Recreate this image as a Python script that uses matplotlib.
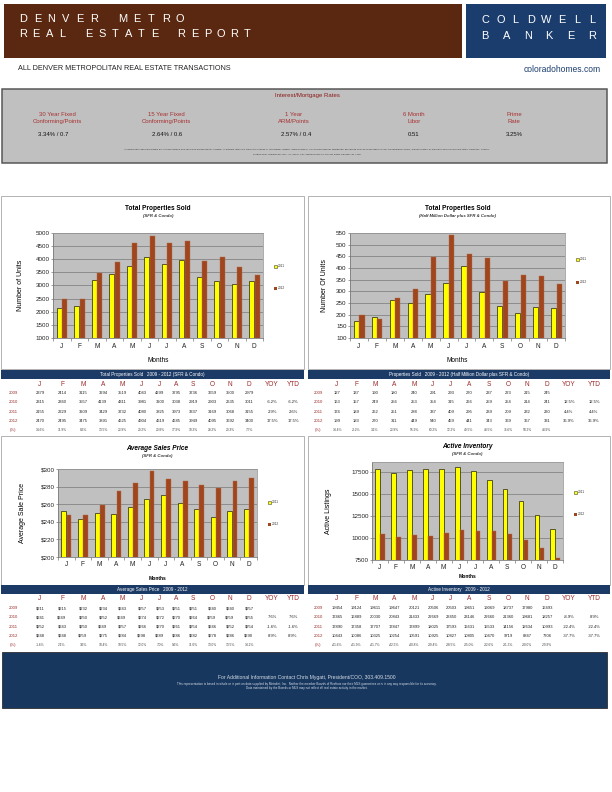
import matplotlib
matplotlib.use("Agg")
import matplotlib.pyplot as plt
from matplotlib.patches import Rectangle

plt.rcParams['font.family'] = ['Liberation Sans', 'DejaVu Sans']

W, H = 612, 792

months = ['J', 'F', 'M', 'A', 'M', 'J', 'J', 'A', 'S', 'O', 'N', 'D']
years = ['2009', '2010', '2011', '2012']

# total properties sold (SFR & condo)
sold_2009 = [2379, 2414, 3115, 3294, 3519, 4043, 4299, 3795, 3736, 3659, 3500, 2979]
sold_2010 = [2315, 2360, 3557, 4139, 4311, 3981, 3200, 3038, 2919, 2903, 2635, 3011]
sold_2011 = [2155, 2229, 3209, 3429, 3732, 4080, 3825, 3973, 3337, 3169, 3068, 3155]
sold_2012 = [2470, 2495, 3475, 3891, 4625, 4904, 4619, 4685, 3949, 4095, 3692, 3400]
sold_yoy = ['', '-6.2%', '2.9%', '17.5%']
sold_ytd = ['', '-6.2%', '2.6%', '17.5%']
sold_pct = ['14.6%', '11.9%', '8.3%', '13.5%', '23.9%', '20.2%', '20.8%', '17.9%',
            '18.3%', '29.2%', '20.3%', '7.7%']

# half million dollar plus
half_2009 = [127, 137, 190, 180, 240, 291, 293, 270, 237, 223, 215, 245]
half_2010 = [163, 157, 249, 256, 253, 354, 315, 266, 259, 254, 214, 241]
half_2011 = [174, 189, 262, 251, 288, 337, 409, 295, 239, 209, 232, 230]
half_2012 = [199, 183, 270, 311, 449, 540, 459, 441, 343, 369, 367, 331]
half_yoy = ['', '12.5%', '4.4%', '36.9%']
half_ytd = ['', '12.5%', '4.4%', '36.9%']
half_pct = ['14.4%', '-3.2%', '3.1%', '23.9%', '55.9%', '60.2%', '12.2%', '49.5%',
            '43.5%', '76.6%', '58.2%', '43.9%']

# average sales price ($K)
price_2009 = [211, 215, 232, 234, 243, 257, 253, 251, 251, 240, 240, 257]
price_2010 = [241, 249, 250, 252, 249, 274, 272, 270, 264, 259, 259, 255]
price_2011 = [252, 243, 250, 249, 257, 266, 270, 261, 254, 246, 252, 254]
price_2012 = [248, 248, 259, 275, 284, 298, 289, 286, 282, 278, 286, 290]
price_yoy = ['', '7.6%', '-1.6%', '8.9%']
price_ytd = ['', '7.6%', '-1.6%', '8.9%']
price_pct = ['-1.6%', '2.1%', '3.6%', '10.4%', '10.5%', '12.0%', '7.0%', '9.6%',
             '11.0%', '13.0%', '13.5%', '14.2%']

# active inventory
inv_2009 = [19454, 19124, 19611, 19647, 20121, 20506, 20503, 19651, 19069, 18737, 17980, 16493]
inv_2010 = [17465, 16889, 20030, 20843, 21433, 22669, 23450, 23146, 22660, 21360, 19681, 18257]
inv_2011 = [17890, 17358, 17707, 17847, 17899, 18025, 17593, 16631, 15533, 14156, 12634, 10993]
inv_2012 = [10443, 10086, 10325, 10254, 10591, 10925, 10827, 10805, 10470, 9719, 8847, 7706]
inv_yoy = ['', '-8.9%', '-22.4%', '-37.7%']
inv_ytd = ['', '8.9%', '-22.4%', '-37.7%']
inv_pct = ['-41.6%', '-41.9%', '-41.7%', '-42.5%', '-40.8%', '-39.4%', '-38.5%', '-35.0%',
           '-32.6%', '-31.3%', '-30.0%', '-29.9%']

rate_labels = ['30 Year Fixed\nConforming/Points', '15 Year Fixed\nConforming/Points',
               '1 Year\nARM/Points', '6 Month\nLibor', 'Prime\nRate']
rate_values = ['3.34% / 0.7', '2.64% / 0.6', '2.57% / 0.4', '0.51', '3.25%']

BROWN_HDR = '#5a2810'
NAVY = '#17375f'
DARKRED = '#9c2a2a'
YEL = '#ffff00'
BAR2 = '#a0461e'

fig = plt.figure(figsize=(W / 72, H / 72), dpi=72)
bg = fig.add_axes([0, 0, 1, 1])
bg.set_xlim(0, W)
bg.set_ylim(H, 0)
bg.axis('off')


def ax_px(x0, y0, x1, y1):
    return fig.add_axes([x0 / W, 1 - y1 / H, (x1 - x0) / W, (y1 - y0) / H])


def rect(x0, y0, x1, y1, fc, ec='none', lw=0):
    bg.add_patch(Rectangle((x0, y0), x1 - x0, y1 - y0, fc=fc, ec=ec, lw=lw))


def spaced(text, x0, x1, y, size):
    step = (x1 - x0) / (len(text) - 1)
    for i, ch in enumerate(text):
        bg.text(x0 + i * step, y, ch, color='white', fontsize=size, ha='center', va='center')


# header
rect(4, 4, 462, 58, BROWN_HDR)
rect(466, 4, 606, 58, '#1b3d6e')
spaced('DENVER METRO', 23, 180, 19, 11)
spaced('REAL ESTATE REPORT', 23, 247, 34, 11)
spaced('COLDWELL', 485, 592, 20, 11)
spaced('BANKER', 485, 592, 36, 11)
bg.text(18, 69, 'ALL DENVER METROPOLITAN REAL ESTATE TRANSACTIONS', fontsize=7.3,
        va='center', color='#222222')
bg.text(601, 69, 'coloradohomes.com', fontsize=8.5, va='center', ha='right', color='#1b3d6e')

# rates box
rect(2, 89, 607, 163, '#c0c0c0', ec='#555555', lw=1.5)
bg.text(307, 95, 'Interest/Mortgage Rates', fontsize=6, color='#8b1a1a', ha='center', va='center')
rate_x = [57, 166, 294, 414, 514]
val_x = [53, 167, 296, 414, 514]
for i in range(len(rate_labels)):
    bg.text(rate_x[i], 118, rate_labels[i], fontsize=6, color='#a83232', ha='center',
            va='center', linespacing=1.35)
    bg.text(val_x[i], 134, rate_values[i], fontsize=6, color='#111111', ha='center', va='center')
bg.text(307, 149, 'All information deemed reliable but not guaranteed and should be independently verified. '
        'All interest rates are subject to change or withdrawal. Neither listing broker(s) nor Coldwell Banker '
        'Residential Brokerage shall be responsible for any typographical errors, misinformation or misprints '
        'and shall be held totally harmless. Source:', fontsize=2.45, ha='center', va='center', color='#333333')
bg.text(307, 154.5, 'Freddie Mac (Wednesday Dec. 11, 2008). For Additional Info on Current Rates call 888 781 7409',
        fontsize=2.45, ha='center', va='center', color='#333333')


def bar_chart(box, plot, v1, v2, ylim, yticks, fmt, title, subtitle, ylabel, ylabel_x,
              title_y, xlabel_y, leg_y, italic=False, xlabel_bold=False):
    bx0, by0, bx1, by1 = box
    rect(bx0, by0, bx1, by1, 'white', ec='#b4b4b4', lw=1)
    ax = ax_px(*plot)
    ax.set_facecolor('#c0c0c0')
    x = list(range(12))
    ax.bar([i - 0.14 for i in x], v1, width=0.3, color=YEL, edgecolor='#3a3a10', lw=0.8, zorder=3)
    ax.bar([i + 0.17 for i in x], v2, width=0.28, color=BAR2, edgecolor='#b86a48', lw=0.4, zorder=3)
    ax.set_xlim(-0.5, 11.5)
    ax.set_ylim(*ylim)
    ax.set_yticks(yticks)
    ax.set_yticklabels([fmt(v) for v in yticks], fontsize=6.2, color='#222222')
    ax.yaxis.grid(True, color='#7a7a7a', lw=0.7, zorder=0)
    ax.set_xticks([i + 0.5 for i in range(-1, 12)])
    ax.set_xticklabels([])
    ax.tick_params(axis='x', length=3, color='#888888')
    ax.tick_params(axis='y', length=2, color='#888888', pad=1.5)
    for i, m in enumerate(months):
        ax.text(i, -0.08, m, transform=ax.get_xaxis_transform(), ha='center', va='center',
                fontsize=6.5, color='#222222')
    for s in ['top', 'right']:
        ax.spines[s].set_color('#999999')
    for s in ['left', 'bottom']:
        ax.spines[s].set_color('#777777')
    cx = (plot[0] + plot[2]) / 2
    style = 'italic' if italic else 'normal'
    bg.text(cx, title_y, title, fontsize=6.5, fontweight='bold', style=style, ha='center', va='center')
    bg.text(cx, title_y + 7.5, subtitle, fontsize=4.2, fontweight='bold', style='italic',
            ha='center', va='center', color='#333333')
    bg.text(ylabel_x, (plot[1] + plot[3]) / 2, ylabel, rotation=90, fontsize=7, ha='center', va='center')
    if xlabel_bold:
        bg.text(cx, xlabel_y, 'Months', fontsize=5, fontweight='bold', ha='center', va='center')
    else:
        bg.text(cx, xlabel_y, 'Months', fontsize=6.5, ha='center', va='center')
    lx = plot[2] + 11
    for k, (lab, col, ly) in enumerate([('2011', YEL, leg_y[0]), ('2012', BAR2, leg_y[1])]):
        rect(lx, ly - 1.5, lx + 3, ly + 1.5, col, ec='#333333' if k == 0 else 'none', lw=0.5)
        bg.text(lx + 3.5, ly, lab, fontsize=3.3, va='center', color='#333333')
    return ax


bar_chart((1, 196, 304, 369), (53, 233, 263, 338), sold_2011, sold_2012, (1000, 5000),
          list(range(1000, 5001, 500)), str, 'Total Properties Sold', '(SFR & Condo)',
          'Number of Units', 20, 209, 360, (266, 288))
bar_chart((308, 196, 610, 369), (350, 233, 565, 338), half_2011, half_2012, (100, 550),
          list(range(100, 551, 50)), str, 'Total Properties Sold',
          '(Half Million Dollar plus SFR & Condo)', 'Number Of Units', 325, 209, 361, (259, 282))
bar_chart((1, 436, 304, 585), (58, 469, 257, 557), price_2011, price_2012, (200, 300),
          list(range(200, 301, 20)), lambda v: '$%d' % v, 'Average Sales Price', '(SFR & Condo)',
          'Average Sale Price', 23, 448, 579, (502, 524), italic=True, xlabel_bold=True)
bar_chart((308, 436, 610, 585), (372, 462, 563, 560), inv_2011, inv_2012, (7500, 18650),
          list(range(7500, 17501, 2500)), str, 'Active Inventory', '(SFR & Condo)',
          'Active Listings', 328, 446, 577, (492, 514), italic=True, xlabel_bold=True)


def table(x0, x1, bar_y, title, year_x, cols, rows, yoy, ytd, pct):
    rect(x0, bar_y, x1, bar_y + 9, '#1c3a66')
    bg.text((x0 + x1) / 2, bar_y + 4.6, title, fontsize=4.6, color='white', ha='center', va='center')
    hy = bar_y + 14
    for i, m in enumerate(months + ['YOY', 'YTD']):
        bg.text(cols[i], hy, m, fontsize=6.5, color=DARKRED, ha='center', va='center')
    for r, (yr, vals) in enumerate(zip(years, rows)):
        ry = bar_y + 23 + r * 9.3
        bg.text(year_x, ry, yr, fontsize=4.3, color=DARKRED, ha='center', va='center')
        for i, v in enumerate(vals):
            bg.text(cols[i], ry, v, fontsize=4.1, color='#222222', ha='center', va='center')
        bg.text(cols[12], ry, yoy[r], fontsize=4.1, color='#222222', ha='center', va='center')
        bg.text(cols[13], ry, ytd[r], fontsize=4.1, color='#222222', ha='center', va='center')
    py = bar_y + 23 + 4 * 9.3
    bg.text(year_x, py, '(%)', fontsize=4.3, color=DARKRED, ha='center', va='center')
    for i, v in enumerate(pct):
        bg.text(cols[i], py, v, fontsize=3.2, color='#444444', ha='center', va='center')


cols_left = [40, 62, 83, 103, 122, 142, 160, 176, 193, 212, 230, 249, 272, 293]
cols_right = [337, 356, 375, 394, 414, 433, 451, 469, 489, 508, 527, 547, 569, 594]

table(1, 304, 370, 'Total Properties Sold   2009 - 2012 (SFR & Condo)', 13, cols_left,
      [[str(v) for v in r] for r in (sold_2009, sold_2010, sold_2011, sold_2012)],
      sold_yoy, sold_ytd, sold_pct)
table(308, 610, 370, 'Properties Sold   2009 - 2012 (Half Million Dollar plus SFR & Condo)', 318,
      cols_right, [[str(v) for v in r] for r in (half_2009, half_2010, half_2011, half_2012)],
      half_yoy, half_ytd, half_pct)
table(1, 304, 585, 'Average Sales Price   2009 - 2012', 13, cols_left,
      [['$%d' % v for v in r] for r in (price_2009, price_2010, price_2011, price_2012)],
      price_yoy, price_ytd, price_pct)
table(308, 610, 585, 'Active Inventory   2009 - 2012', 318, cols_right,
      [[str(v) for v in r] for r in (inv_2009, inv_2010, inv_2011, inv_2012)],
      inv_yoy, inv_ytd, inv_pct)

# footer
rect(2, 652, 607, 708, NAVY, ec='#2a2a2a', lw=0.8)
bg.text(307, 677, 'For Additional Information Contact Chris Mygatt, President/COO, 303.409.1500',
        fontsize=5, color='#d8dde6', ha='center', va='center')
bg.text(307, 683.5, 'This representation is based in whole or in part on data supplied by Metrolist, Inc.  '
        'Neither the member Boards of Realtors nor their MLS guarantees or is in any way responsible for its accuracy.',
        fontsize=3, color='#d8dde6', ha='center', va='center')
bg.text(307, 688.5, 'Data maintained by the Boards or MLS may not reflect all real estate activity in the market.',
        fontsize=3, color='#d8dde6', ha='center', va='center')

fig.savefig('out.png', dpi=72)
